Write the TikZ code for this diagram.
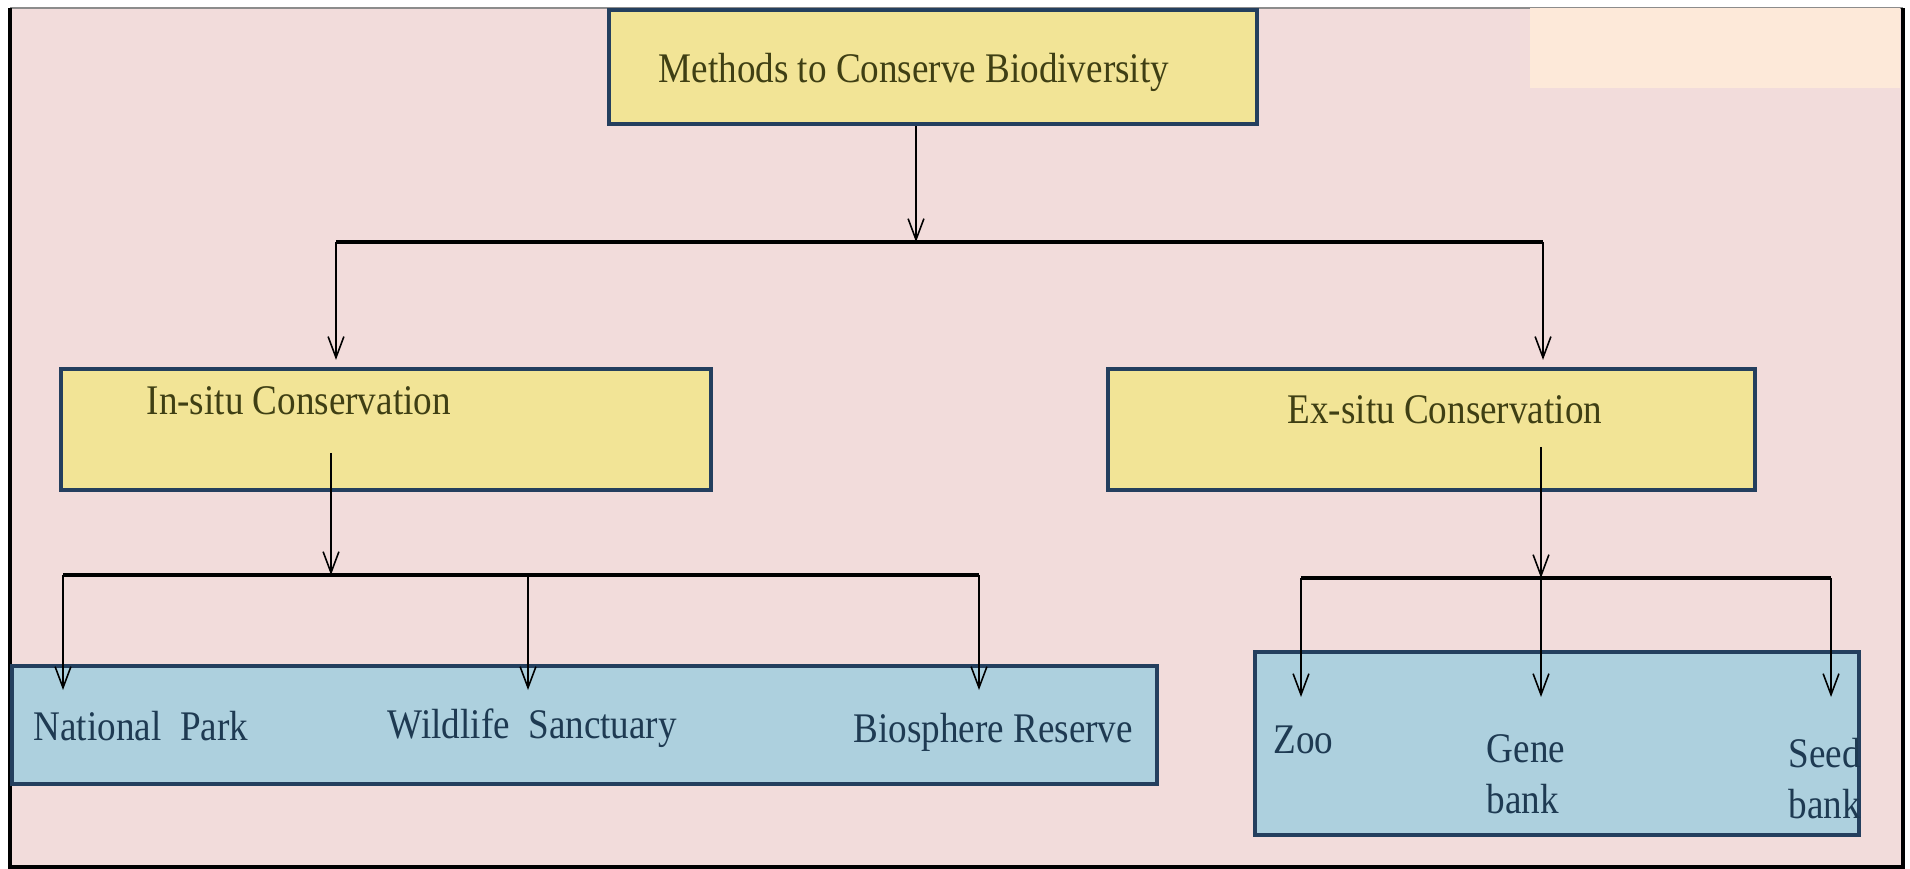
\documentclass[tikz,border=0pt]{standalone}
\usepackage{fontspec}
\setmainfont[FakeStretch=0.88]{Liberation Serif}
\usetikzlibrary{arrows.meta}

\definecolor{slidepink}{HTML}{F2DCDB}
\definecolor{notepeach}{HTML}{FDE9D9}
\definecolor{boxyellow}{HTML}{F2E496}
\definecolor{boxblue}{HTML}{ADD0DE}
\definecolor{boxline}{HTML}{243F5E}
\definecolor{olivetext}{HTML}{3F3F14}
\definecolor{navytext}{HTML}{1E3A52}

\tikzstyle{headbox} = [draw=boxline,line width=1.2pt,fill=boxyellow,inner sep=0pt]
\tikzstyle{leafbox} = [draw=boxline,line width=1.2pt,fill=boxblue,inner sep=0pt]
\tikzstyle{headtext} = [anchor=base west,inner sep=0pt,text=olivetext,font=\fontsize{12}{14}\selectfont]
\tikzstyle{leaftext} = [anchor=base west,inner sep=0pt,text=navytext,align=left,font=\fontsize{12}{14.5}\selectfont]
\tikzstyle{arrowdecorate} = [-{Straight Barb[length=6pt,width=4.5pt]},line width=0.45pt]
\tikzstyle{branchline} = [draw,line width=0.9pt]

\begin{document}
\begin{tikzpicture}[x=0.1mm,y=-0.1mm]
      \useasboundingbox (0,0) rectangle (1910,869);
      %slide
      \fill[slidepink] (10,8) rectangle (1903,867);
      \draw[black!45,line width=0.6pt] (10,8) -- (1903,8);
      \draw[black,line width=1pt] (10,8) -- (10,867) -- (1903,867) -- (1903,8);
      \fill[notepeach] (1530,8) rectangle (1900,88);

      %boxes
      \foreach \nodename/\x/\y/\w/\h/\kind in {
        meth/933/67/64.8/11.4/headbox,
        insitu/386/429.5/65.0/12.1/headbox,
        exsitu/1431.5/429.5/64.7/12.1/headbox,
        inleaf/584.5/725/114.5/11.8/leafbox,
        exleaf/1557/743.5/60.4/18.3/leafbox}
      {
        \node[\kind,minimum width=\w mm,minimum height=\h mm] (\nodename) at (\x,\y) {};
      };

      %labels
      \foreach \nodename/\x/\y/\words/\kind in {
        methtext/658/83/Methods to Conserve Biodiversity/headtext,
        insitutext/146/415/In-situ Conservation/headtext,
        exsitutext/1287/424/Ex-situ Conservation/headtext,
        nptext/33/740/National\ \ Park/leaftext,
        wstext/387/738/Wildlife\ \ Sanctuary/leaftext,
        brtext/853/742/Biosphere Reserve/leaftext,
        zootext/1273/753/Zoo/leaftext,
        gbtext/1486/813/{Gene\\bank}/leaftext,
        sbtext/1788/818/{Seed\\bank}/leaftext}
      {
        \node[\kind] (\nodename) at (\x,\y) {\words};
      };

      %joins
      \coordinate (mj) at (916,242);
      \coordinate (lj) at (336,242);
      \coordinate (rj) at (1543,242);
      \coordinate (is) at (331,453);
      \coordinate (ij) at (331,575);
      \coordinate (es) at (1541,447);
      \coordinate (ej) at (1541,578);
      \foreach \name/\x/\y/\tipy in {np/63/575/690, ws/528/575/690, br/979/575/690,
        zoo/1301/578/697, gb/1541/578/697, sb/1831/578/697}
      {
        \coordinate (top \name) at (\x,\y);
        \coordinate (tip \name) at (\x,\tipy);
      };

      %edges
      \draw[arrowdecorate] (meth.south -| mj) -- (mj);
      \draw[branchline] (lj) -- (rj);
      \draw[arrowdecorate,shorten >=0.7mm] (lj) -- (lj |- insitu.north);
      \draw[arrowdecorate,shorten >=0.7mm] (rj) -- (rj |- exsitu.north);
      \draw[arrowdecorate] (is) -- (ij);
      \draw[arrowdecorate] (es) -- (ej);
      \draw[branchline] (top np) -- (top br);
      \draw[branchline] (top zoo) -- (top sb);
      \path
      \foreach \name in {np,ws,br,zoo,gb,sb}
      {
        (top \name) edge[arrowdecorate] (tip \name)
      };
    \end{tikzpicture}
\end{document}
